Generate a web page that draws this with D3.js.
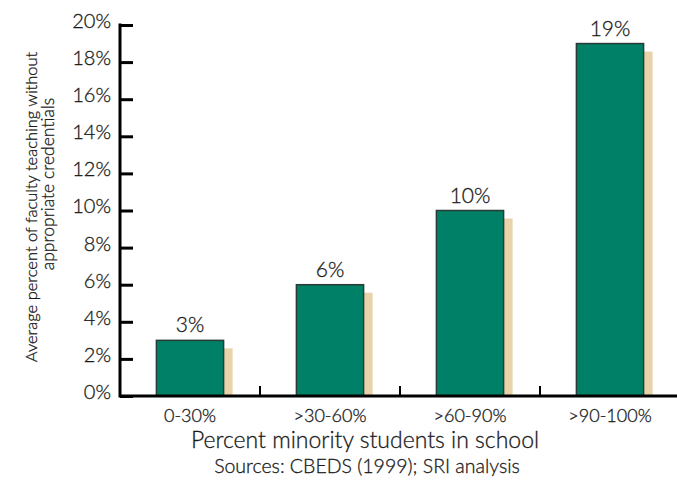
<!DOCTYPE html>
<html>
<head>
<meta charset="utf-8">
<script src="https://cdn.jsdelivr.net/npm/d3@7"></script>
<style>
  html, body { margin: 0; padding: 0; background: #fff; }
  svg text {
    font-family: "Lato", "Open Sans", sans-serif; font-weight: 300;
    fill: #1a1a1a; stroke: #1a1a1a; stroke-width: 0.3px;
  }
</style>
</head>
<body>
<svg id="chart" width="677" height="484"></svg>
<script>
// Share of faculty teaching without appropriate credentials, by minority enrolment
const categories = [">0-30%", ">30-60%", ">60-90%", ">90-100%"];
const categoryLabels = ["0-30%", ">30-60%", ">60-90%", ">90-100%"];
const values = [3, 6, 10, 19];
const valueLabels = ["3%", "6%", "10%", "19%"];
const yTicks = [0, 2, 4, 6, 8, 10, 12, 14, 16, 18, 20];

const svg = d3.select("#chart");
const plotLeft = 120, plotRight = 680, plotTop = 25, plotBottom = 396;

const x = d3.scaleBand()
  .domain(categories)
  .range([plotLeft, plotRight])
  .paddingInner(0.52)
  .paddingOuter(0.26);

const y = d3.scaleLinear().domain([0, 20]).range([plotBottom, plotTop]);

// drop shadows behind the bars, clipped at the baseline
svg.append("defs").append("clipPath").attr("id", "plotClip")
  .append("rect").attr("x", plotLeft).attr("y", 0).attr("width", 677 - plotLeft).attr("height", plotBottom);

svg.append("g").attr("clip-path", "url(#plotClip)")
  .selectAll("rect").data(values).join("rect")
  .attr("x", (d, i) => x(categories[i]) + 9)
  .attr("y", d => y(d) + 8)
  .attr("width", x.bandwidth())
  .attr("height", d => plotBottom - y(d))
  .attr("fill", "#e8d3ab");

// bars
svg.append("g").selectAll("rect").data(values).join("rect")
  .attr("x", (d, i) => x(categories[i]))
  .attr("y", d => y(d))
  .attr("width", x.bandwidth())
  .attr("height", d => plotBottom - y(d))
  .attr("fill", "#008066")
  .attr("stroke", "#2b3a35")
  .attr("stroke-width", 1.5);

// value labels
svg.append("g").selectAll("text").data(values).join("text")
  .attr("x", (d, i) => x(categories[i]) + x.bandwidth() / 2)
  .attr("y", d => y(d) - 8)
  .attr("text-anchor", "middle")
  .attr("font-size", 21)
  .text((d, i) => valueLabels[i]);

// y axis
const yAxis = d3.axisLeft(y).tickValues(yTicks).tickFormat(d => d + "%").tickSize(-13).tickPadding(9);
const gy = svg.append("g").attr("transform", `translate(${plotLeft},0)`).call(yAxis);
gy.select(".domain").remove();
gy.selectAll(".tick line").attr("stroke", "#000").attr("stroke-width", 3);
gy.selectAll(".tick text")
  .attr("font-size", 20).attr("font-family", null).attr("fill", null)
  .attr("y", -4);
svg.append("line").attr("x1", plotLeft).attr("x2", plotLeft).attr("y1", plotTop - 1.5).attr("y2", plotBottom + 1.5)
  .attr("stroke", "#000").attr("stroke-width", 3);

// x axis with separator ticks between categories
const xAxis = d3.axisBottom(x).tickSize(0).tickPadding(13).tickFormat((d, i) => categoryLabels[i]);
const gx = svg.append("g").attr("transform", `translate(0,${plotBottom})`).call(xAxis);
gx.select(".domain").remove();
gx.selectAll(".tick text").attr("font-size", 18).attr("font-family", null).attr("fill", null);
svg.append("line").attr("x1", plotLeft).attr("x2", 677).attr("y1", plotBottom).attr("y2", plotBottom)
  .attr("stroke", "#000").attr("stroke-width", 3);
svg.append("g").selectAll("line").data(categories.slice(1)).join("line")
  .attr("x1", d => x(d) - x.step() * x.paddingOuter())
  .attr("x2", d => x(d) - x.step() * x.paddingOuter())
  .attr("y1", plotBottom).attr("y2", plotBottom - 10)
  .attr("stroke", "#000").attr("stroke-width", 2);

// axis titles and source
svg.append("text").attr("x", 365).attr("y", 448).attr("text-anchor", "middle")
  .attr("font-size", 23).text("Percent minority students in school");
svg.append("text").attr("x", 367).attr("y", 473).attr("text-anchor", "middle")
  .attr("font-size", 19.5).text("Sources: CBEDS (1999); SRI analysis");

const yTitle = svg.append("text").attr("transform", "rotate(-90)")
  .attr("text-anchor", "middle").attr("font-size", 16.5);
yTitle.append("tspan").attr("x", -207).attr("y", 37).text("Average percent of faculty teaching without");
yTitle.append("tspan").attr("x", -184).attr("y", 54).attr("font-size", 17.5).text("appropriate credentials");
</script>
</body>
</html>
